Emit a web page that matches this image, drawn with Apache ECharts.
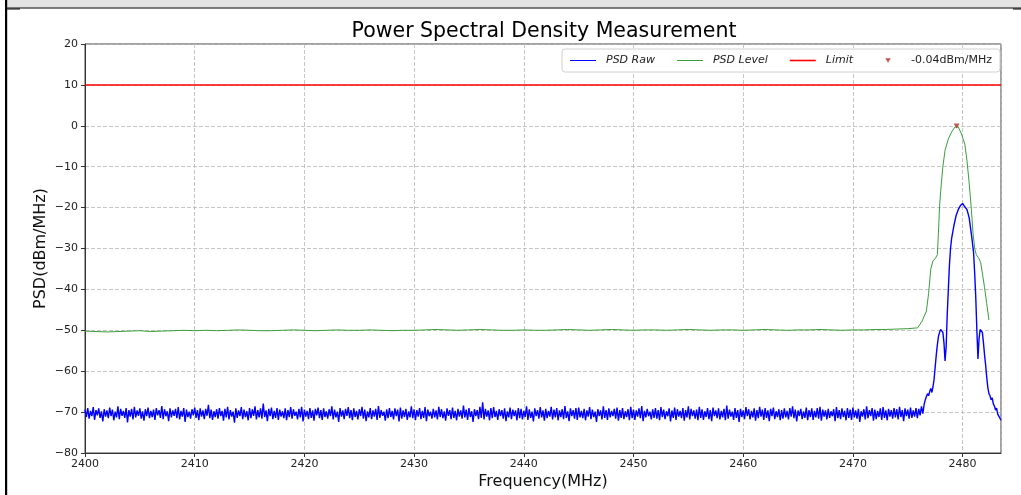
<!DOCTYPE html>
<html><head><meta charset="utf-8">
<script src="https://cdn.jsdelivr.net/npm/echarts@6/dist/echarts.min.js"></script>
<style>html,body{margin:0;padding:0;background:#fff}#c{width:1021px;height:495px}</style>
</head><body><div id="c"></div><script>
// ---------------- DATA ----------------
const chartTitle = 'Power Spectral Density Measurement';
const xName = 'Frequency(MHz)';
const yName = 'PSD(dBm/MHz)';
const xMin = 2400, xMax = 2483.5, xStep = 10;
const yMin = -80, yMax = 20, yStep = 10;
const seriesNames = ['PSD Raw', 'PSD Level', 'Limit', '-0.04dBm/MHz'];

// PSD Raw: noise floor sampled every 0.125 MHz from 2400 MHz
const rawStart = 2400, rawStep = 0.125;
const rawNoise = [
-69.4,-71.2,-69.0,-71.6,-69.7,-71.0,-68.8,-71.9,-69.5,-70.8,-69.1,-71.4,-69.8,-72.3,-69.3,-71.1,
-69.6,-71.5,-68.9,-71.0,-69.4,-72.0,-69.9,-71.3,-68.6,-71.7,-69.2,-70.9,-69.7,-71.4,-69.0,-72.5,
-69.5,-71.1,-69.2,-71.8,-68.7,-71.3,-69.6,-70.9,-69.1,-71.6,-69.8,-72.1,-69.3,-71.0,-68.9,-71.5,
-69.7,-71.2,-69.4,-71.9,-69.0,-70.8,-69.5,-71.4,-68.5,-71.7,-69.3,-71.0,-69.8,-72.2,-69.1,-71.3,
-69.6,-70.9,-69.2,-71.5,-68.8,-71.8,-69.7,-71.1,-69.0,-72.4,-69.4,-71.2,-69.9,-71.6,-69.3,-70.8,
-68.9,-71.4,-69.5,-72.0,-69.1,-71.1,-69.6,-71.7,-69.2,-70.9,-68.2,-71.5,-69.4,-71.9,-69.8,-71.2,
-69.3,-71.6,-69.0,-71.0,-69.7,-72.1,-69.2,-71.3,-68.7,-71.8,-69.5,-71.1,-69.9,-72.6,-69.1,-71.4,
-69.6,-71.0,-68.8,-71.7,-69.4,-71.2,-69.8,-72.0,-69.0,-71.5,-69.3,-70.9,-68.6,-71.8,-69.5,-71.3,
-69.1,-71.6,-67.9,-71.2,-69.6,-72.2,-69.2,-71.0,-68.9,-71.7,-69.7,-71.4,-69.0,-71.9,-69.4,-71.1,
-69.8,-71.5,-69.1,-72.0,-69.5,-71.2,-68.8,-71.6,-69.3,-70.9,-69.9,-71.8,-69.2,-71.3,-68.7,-72.3,
-69.4,-71.1,-69.7,-71.7,-69.0,-71.4,-69.6,-72.1,-69.2,-70.8,-68.9,-71.5,-69.5,-71.9,-69.1,-71.2,
-69.8,-71.6,-69.3,-71.0,-68.6,-71.8,-69.4,-71.3,-69.9,-72.4,-69.0,-71.1,-69.6,-71.7,-69.2,-70.9,
-68.8,-71.5,-69.5,-72.0,-69.1,-71.2,-69.7,-71.8,-69.3,-71.0,-68.7,-71.6,-69.4,-72.2,-69.8,-71.3,
-69.0,-71.7,-69.6,-71.1,-69.2,-71.9,-68.5,-71.4,-69.5,-70.9,-69.9,-72.1,-69.3,-71.5,-69.0,-71.2,
-69.7,-71.8,-69.1,-71.0,-69.4,-72.3,-68.9,-71.6,-69.6,-71.2,-69.2,-71.9,-69.8,-71.3,-68.6,-71.5,
-69.3,-72.0,-69.5,-71.1,-69.0,-71.7,-69.7,-71.4,-68.8,-72.2,-69.4,-71.0,-69.9,-71.6,-69.2,-71.3,
-69.6,-71.8,-68.7,-71.2,-69.3,-71.5,-69.8,-72.1,-69.1,-70.9,-69.5,-71.7,-68.9,-71.4,-69.7,-72.0,
-69.2,-71.1,-69.6,-71.6,-68.4,-71.3,-69.4,-71.9,-69.0,-71.2,-69.8,-72.4,-69.3,-71.0,-69.5,-71.7,
-68.7,-71.4,-67.6,-71.8,-69.2,-71.1,-69.6,-72.0,-69.0,-71.5,-68.8,-71.2,-69.7,-71.9,-69.3,-71.0,
-69.5,-71.6,-69.1,-72.2,-69.8,-71.3,-68.9,-71.7,-69.4,-71.0,-69.6,-72.0,-69.0,-71.5,-69.2,-71.8,
-69.7,-71.2,-68.6,-71.9,-69.3,-71.4,-69.9,-72.3,-69.1,-71.0,-69.5,-71.6,-68.8,-71.3,-69.6,-72.1,
-69.2,-71.5,-69.7,-71.1,-68.7,-71.8,-69.4,-71.3,-69.0,-72.0,-69.6,-71.2,-69.3,-71.7,-68.5,-71.4,
-69.8,-72.2,-69.1,-71.0,-69.5,-71.6,-69.0,-71.9,-68.9,-71.3,-69.7,-71.5,-69.2,-72.0,-69.6,-71.1,
-68.8,-71.7,-69.4,-71.2,-69.9,-72.4,-69.3,-71.0,-69.6,-71.8,-68.6,-71.4,-69.5,-71.9,-69.1,-71.3,
-69.7,-71.0,-69.2,-71.6,-68.9,-72.1,-69.5,-71.4,-69.0,-71.7,-69.8,-71.2,-69.3,-72.0,-68.7,-71.5,
-69.4,-71.9,-69.6,-71.1,-69.1,-71.5,-68.5,-72.2,-69.7,-71.3,-69.2,-71.0,-69.9,-71.8,-69.3,-71.4,
-69.0,-71.6,-69.5,-72.0,-68.8,-71.2,-69.4,-71.7,-69.8,-71.0,-69.1,-72.3,-69.6,-71.4,-68.9,-71.9,
-69.3,-71.1,-69.7,-71.5,-69.0,-72.1,-69.5,-71.3,-68.6,-71.8,-69.2,-71.0,-69.6,-71.6,-69.4,-72.0,
-68.7,-71.4,-69.3,-71.9,-69.8,-71.2,-69.0,-71.7,-69.5,-72.2,-68.9,-71.0,-69.6,-71.5,-69.1,-71.8,
-69.7,-71.3,-69.2,-72.0,-68.4,-71.6,-69.4,-71.1,-69.9,-71.9,-69.0,-71.4,-69.5,-72.4,-69.2,-71.2,
-69.6,-71.7,-68.8,-71.0,-69.3,-71.8,-69.7,-71.3,-69.1,-72.1,-69.5,-71.5,-68.7,-71.1,-69.4,-71.9,
-69.0,-71.4,-69.6,-72.2,-69.2,-71.0,-68.9,-71.7,-69.8,-71.2,-69.3,-72.0,-69.5,-71.6,-69.1,-71.3,
-69.7,-71.8,-69.0,-71.1,-68.6,-71.5,-69.4,-72.3,-69.6,-71.0,-69.2,-71.7,-69.8,-71.4,-68.9,-72.0,
-69.5,-71.2,-69.1,-71.9,-69.7,-71.3,-69.0,-71.6,-68.7,-72.1,-69.4,-71.1,-69.6,-71.8,-69.2,-71.4,
-69.8,-71.0,-69.3,-72.2,-68.8,-71.5,-69.5,-71.7,-69.1,-71.2,-69.7,-72.0,-69.0,-71.4,-69.4,-71.9,
-68.9,-71.3,-69.6,-71.6,-69.2,-72.4,-69.8,-71.1,-69.3,-71.8,-68.6,-71.5,-69.5,-71.0,-69.0,-72.1,
-69.4,-71.7,-69.7,-71.2,-69.1,-71.9,-68.8,-71.4,-69.6,-72.0,-69.2,-71.1,-69.5,-71.6,-69.0,-71.3,
-69.3,-71.8,-68.7,-71.2,-69.5,-72.2,-69.1,-71.0,-69.4,-71.6,-68.9,-71.4,-69.6,-71.1,-69.0,-71.5,
-69.2,-70.8,-68.6,-70.4
];
// PSD Raw: signal region
const rawPeakFreq = [2476.5,2476.6,2476.7,2476.8,2476.9,2477.0,2477.1,2477.2,2477.3,2477.4,2477.5,2477.6,2477.7,2477.8,2477.9,2478.0,2478.1,2478.2,2478.3,2478.4,2478.5,2478.6,2478.7,2478.8,2478.9,2479.0,2479.2,2479.4,2479.6,2479.8,2479.9,2480.0,2480.1,2480.2,2480.4,2480.6,2480.8,2481.0,2481.1,2481.2,2481.3,2481.4,2481.5,2481.6,2481.7,2481.8,2481.9,2482.0,2482.1,2482.2,2482.3,2482.4,2482.5,2482.6,2482.7,2482.8,2482.9,2483.0,2483.1,2483.2,2483.3,2483.4,2483.5];
const rawPeakVal  = [-68.0,-67.0,-66.2,-65.5,-66.0,-65.0,-64.2,-65.2,-63.8,-62.0,-59.0,-56.0,-53.5,-51.5,-50.5,-49.8,-49.5,-50.5,-53.0,-57.5,-54.0,-46.0,-40.0,-34.0,-30.0,-27.5,-24.5,-22.0,-20.5,-19.5,-19.2,-19.0,-19.3,-19.8,-20.5,-22.5,-26.5,-31.0,-36.0,-42.0,-50.0,-57.0,-52.0,-49.8,-49.5,-50.5,-53.0,-56.0,-58.5,-61.5,-64.0,-65.5,-66.0,-67.0,-66.5,-68.0,-68.5,-69.5,-69.0,-70.5,-71.0,-71.5,-72.0];

// PSD Level
const levelFreq = [2400,2401,2402,2403,2404,2405,2406,2407,2408,2409,2410,2411,2412,2413,2414,2415,2416,2417,2418,2419,2420,2421,2422,2423,2424,2425,2426,2427,2428,2429,2430,2431,2432,2433,2434,2435,2436,2437,2438,2439,2440,2441,2442,2443,2444,2445,2446,2447,2448,2449,2450,2451,2452,2453,2454,2455,2456,2457,2458,2459,2460,2461,2462,2463,2464,2465,2466,2467,2468,2469,2470,2471,2472,2473,2474,2475,2475.9,2476.3,2476.7,2476.9,2477.1,2477.3,2477.5,2477.7,2477.8,2477.9,2478.0,2478.2,2478.4,2478.7,2479.0,2479.3,2479.45,2479.6,2479.9,2480.2,2480.4,2480.6,2480.8,2480.95,2481.1,2481.25,2481.5,2481.65,2481.8,2482.0,2482.2,2482.4];
const levelVal  = [-50.2,-50.3,-50.4,-50.3,-50.2,-50.1,-50.3,-50.2,-50.1,-50.0,-50.1,-50.0,-50.1,-50.0,-49.9,-50.0,-50.1,-50.1,-50.0,-49.9,-50.0,-50.1,-50.0,-49.9,-50.0,-50.0,-49.9,-50.0,-50.1,-50.0,-50.0,-49.9,-49.8,-49.9,-50.0,-49.9,-49.8,-49.9,-50.0,-50.0,-49.9,-50.0,-50.0,-49.9,-49.8,-49.9,-50.0,-49.9,-49.8,-49.9,-50.0,-49.9,-49.9,-50.0,-49.9,-49.8,-49.9,-50.0,-49.9,-49.9,-50.0,-49.9,-49.8,-49.9,-50.0,-49.9,-49.9,-49.8,-49.9,-50.0,-49.9,-49.9,-49.8,-49.8,-49.7,-49.6,-49.4,-47.8,-45.3,-41.0,-35.0,-33.0,-32.5,-31.5,-26.0,-19.7,-16.0,-10.0,-6.0,-3.2,-1.5,-0.3,-0.04,-0.3,-2.0,-4.5,-8.5,-14.0,-20.5,-26.2,-30.0,-31.5,-32.5,-33.5,-36.0,-39.5,-43.5,-47.5];

// Limit
const limitFreq = [2400, 2483.5];
const limitVal = [10, 10];

// Peak marker
const peakFreq = [2479.45];
const peakVal = [-0.04];

// ---------------- BUILD ----------------
const rawData = rawNoise.map((v, i) => [+(rawStart + i * rawStep).toFixed(3), v])
  .concat(rawPeakFreq.map((f, i) => [f, rawPeakVal[i]]));
const levelData = levelFreq.map((f, i) => [f, levelVal[i]]);
const limitData = limitFreq.map((f, i) => [f, limitVal[i]]);
const peakData = peakFreq.map((f, i) => [f, peakVal[i]]);

const FONT = 'DejaVu Sans';
const fmtNum = v => v < 0 ? '\u2212' + (-v) : '' + v;
const lineIcon = w => 'path://M0,0M26,10M0,' + (5 - w / 2) + 'L26,' + (5 - w / 2) + 'L26,' + (5 + w / 2) + 'L0,' + (5 + w / 2) + 'Z';

const chart = echarts.init(document.getElementById('c'), null, {renderer: 'canvas'});
chart.setOption({
  animation: false,
  backgroundColor: '#fff',
  textStyle: {fontFamily: FONT},
  graphic: [
    {type: 'rect', shape: {x: 7, y: 0, width: 1014, height: 7.5}, style: {fill: '#e4e4e4'}, silent: true},
    {type: 'rect', shape: {x: 7, y: 7.5, width: 1014, height: 1}, style: {fill: '#000'}, silent: true},
    {type: 'rect', shape: {x: 7, y: 8.5, width: 13, height: 1}, style: {fill: '#000'}, silent: true},
    {type: 'rect', shape: {x: 1013, y: 8.5, width: 8, height: 1}, style: {fill: '#000'}, silent: true},
    {type: 'rect', shape: {x: 5, y: 0, width: 2.2, height: 495}, style: {fill: '#000'}, silent: true}
  ],
  title: {
    text: chartTitle, left: 539, top: 16, textAlign: 'center',
    textStyle: {fontFamily: FONT, fontSize: 20.5, fontWeight: 'normal', color: '#000'}
  },
  legend: {
    right: 21, top: 49,
    padding: [6, 8],
    itemWidth: 26, itemHeight: 10, itemGap: 22,
    borderColor: '#d0d0d0', borderWidth: 1, borderRadius: 3,
    backgroundColor: 'rgba(255,255,255,0.85)',
    textStyle: {fontFamily: FONT, fontSize: 11, color: '#222', padding: [0, 0, 0, 5]},
    data: [
      {name: seriesNames[0], icon: lineIcon(1), textStyle: {fontStyle: 'italic'}},
      {name: seriesNames[1], icon: lineIcon(1), textStyle: {fontStyle: 'italic'}},
      {name: seriesNames[2], icon: lineIcon(1.6), textStyle: {fontStyle: 'italic'}},
      {name: seriesNames[3], icon: 'path://M0,0M26,10M10.3,2.8L15.7,2.8L13,7.2Z'}
    ]
  },
  grid: {left: 85, right: 20, top: 44, bottom: 41, show: true, borderColor: '#444', borderWidth: 1, backgroundColor: 'transparent'},
  xAxis: {
    type: 'value', min: xMin, max: xMax, interval: xStep,
    name: xName, nameLocation: 'middle', nameGap: 21, nameMoveOverlap: false,
    nameTextStyle: {fontFamily: FONT, fontSize: 16, color: '#111'},
    axisLine: {show: true, onZero: false, lineStyle: {color: '#333', width: 1}},
    axisTick: {show: true, length: 4, lineStyle: {color: '#333'}},
    axisLabel: {show: true, margin: 6, fontFamily: FONT, fontSize: 11, color: '#222',
      showMaxLabel: false, formatter: v => (v % xStep === 0 ? fmtNum(v) : '')},
    splitLine: {show: true, lineStyle: {color: '#b8b8b8', type: [4, 2], width: 0.8}}
  },
  yAxis: {
    type: 'value', min: yMin, max: yMax, interval: yStep,
    name: yName, nameLocation: 'middle', nameGap: 36, nameRotate: 90, nameMoveOverlap: false,
    nameTextStyle: {fontFamily: FONT, fontSize: 16, color: '#111'},
    axisLine: {show: true, onZero: false, lineStyle: {color: '#333', width: 1}},
    axisTick: {show: true, length: 4, lineStyle: {color: '#333'}},
    axisLabel: {show: true, margin: 7, fontFamily: FONT, fontSize: 11, color: '#222', formatter: fmtNum},
    splitLine: {show: true, lineStyle: {color: '#b8b8b8', type: [4, 2], width: 0.8}}
  },
  series: [
    {name: seriesNames[0], type: 'line', data: rawData, symbol: 'none', sampling: null,
      lineStyle: {color: '#0000ff', width: 1.4}, itemStyle: {color: '#0000ff'}, z: 2, silent: true},
    {name: seriesNames[1], type: 'line', data: levelData, symbol: 'none',
      lineStyle: {color: '#3a9e3a', width: 1}, itemStyle: {color: '#3a9e3a'}, z: 3, silent: true},
    {name: seriesNames[2], type: 'line', data: limitData, symbol: 'none',
      lineStyle: {color: '#ff0000', width: 1.5}, itemStyle: {color: '#ff0000'}, z: 4, silent: true},
    {name: seriesNames[3], type: 'scatter', data: peakData, symbol: 'triangle', symbolRotate: 180, symbolSize: [6, 5],
      itemStyle: {color: '#b52a2a'}, z: 5, silent: true}
  ]
});
</script></body></html>
